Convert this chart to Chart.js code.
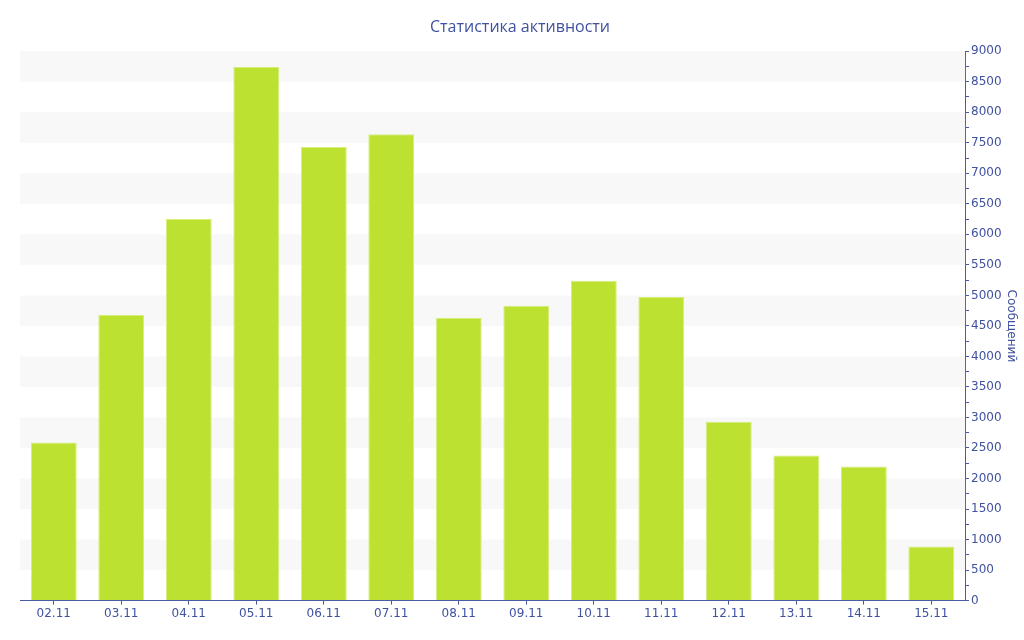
<!DOCTYPE html>
<html>
<head>
<meta charset="utf-8">
<script src="https://cdn.jsdelivr.net/npm/chart.js@4/dist/chart.umd.min.js"></script>
<style>
  html, body { margin:0; padding:0; background:#fff; }
  #wrap { width:1024px; height:640px; }
</style>
</head>
<body>
<div id="wrap"><canvas id="c" width="1024" height="640"></canvas></div>
<script>
// данные активности по дням
const days = ['02.11','03.11','04.11','05.11','06.11','07.11','08.11','09.11','10.11','11.11','12.11','13.11','14.11','15.11'];
const messages = [2590, 4680, 6250, 8740, 7430, 7640, 4630, 4830, 5240, 4975, 2930, 2375, 2195, 885];
const titleText = 'Статистика активности';
const axisTitle = 'Сообщений';

const axisColor = '#4a5ba3';
const labelColor = '#3f51a0';

// полосы фона через шкалу y
const bands = {
  id: 'bands',
  beforeDatasetsDraw(chart){
    const { ctx, chartArea:a, scales:{ y } } = chart;
    ctx.save();
    ctx.fillStyle = '#f8f8f8';
    for (let v = 0, i = 0; v < y.max; v += 500, i++) {
      if (i % 2 === 0) continue;
      const top = y.getPixelForValue(v + 500), bot = y.getPixelForValue(v);
      ctx.fillRect(a.left, top, a.right - a.left, bot - top);
    }
    ctx.restore();
  }
};

new Chart(document.getElementById('c').getContext('2d'), {
  type: 'bar',
  data: {
    labels: days,
    datasets: [{
      label: axisTitle,
      data: messages,
      backgroundColor: '#bde130',
      borderColor: '#d4ee78',
      borderWidth: { top: 1, left: 1, right: 1, bottom: 0 },
      barPercentage: 0.68,
      categoryPercentage: 1
    }]
  },
  plugins: [bands],
  options: {
    responsive: false,
    animation: false,
    layout: { padding: { left: 20, right: 4, top: 14, bottom: 17 } },
    plugins: {
      legend: { display: false },
      tooltip: { enabled: false },
      title: {
        display: true, text: titleText, color: labelColor,
        font: { family: 'Open Sans', size: 16, weight: 'normal' },
        padding: { top: 4, bottom: 14 }
      }
    },
    scales: {
      x: {
        grid: { display: true, offset: false, drawOnChartArea: false, color: axisColor, tickLength: 4 },
        border: { color: axisColor, width: 1 },
        ticks: { color: labelColor, font: { family: 'DejaVu Sans', size: 12 }, padding: 2, maxRotation: 0 }
      },
      y: {
        position: 'right',
        min: 0, max: 9000,
        grid: { drawOnChartArea: false, color: axisColor, tickLength: 4 },
        border: { color: axisColor, width: 1 },
        ticks: {
          stepSize: 250, autoSkip: false, color: labelColor, padding: 2,
          font: { family: 'DejaVu Sans', size: 12 },
          callback: v => v % 500 === 0 ? v : ''
        },
        title: {
          display: true, text: axisTitle, color: labelColor,
          font: { family: 'DejaVu Sans', size: 12 }, padding: { top: 2, bottom: 0 }
        }
      }
    }
  }
});
</script>
</body>
</html>
